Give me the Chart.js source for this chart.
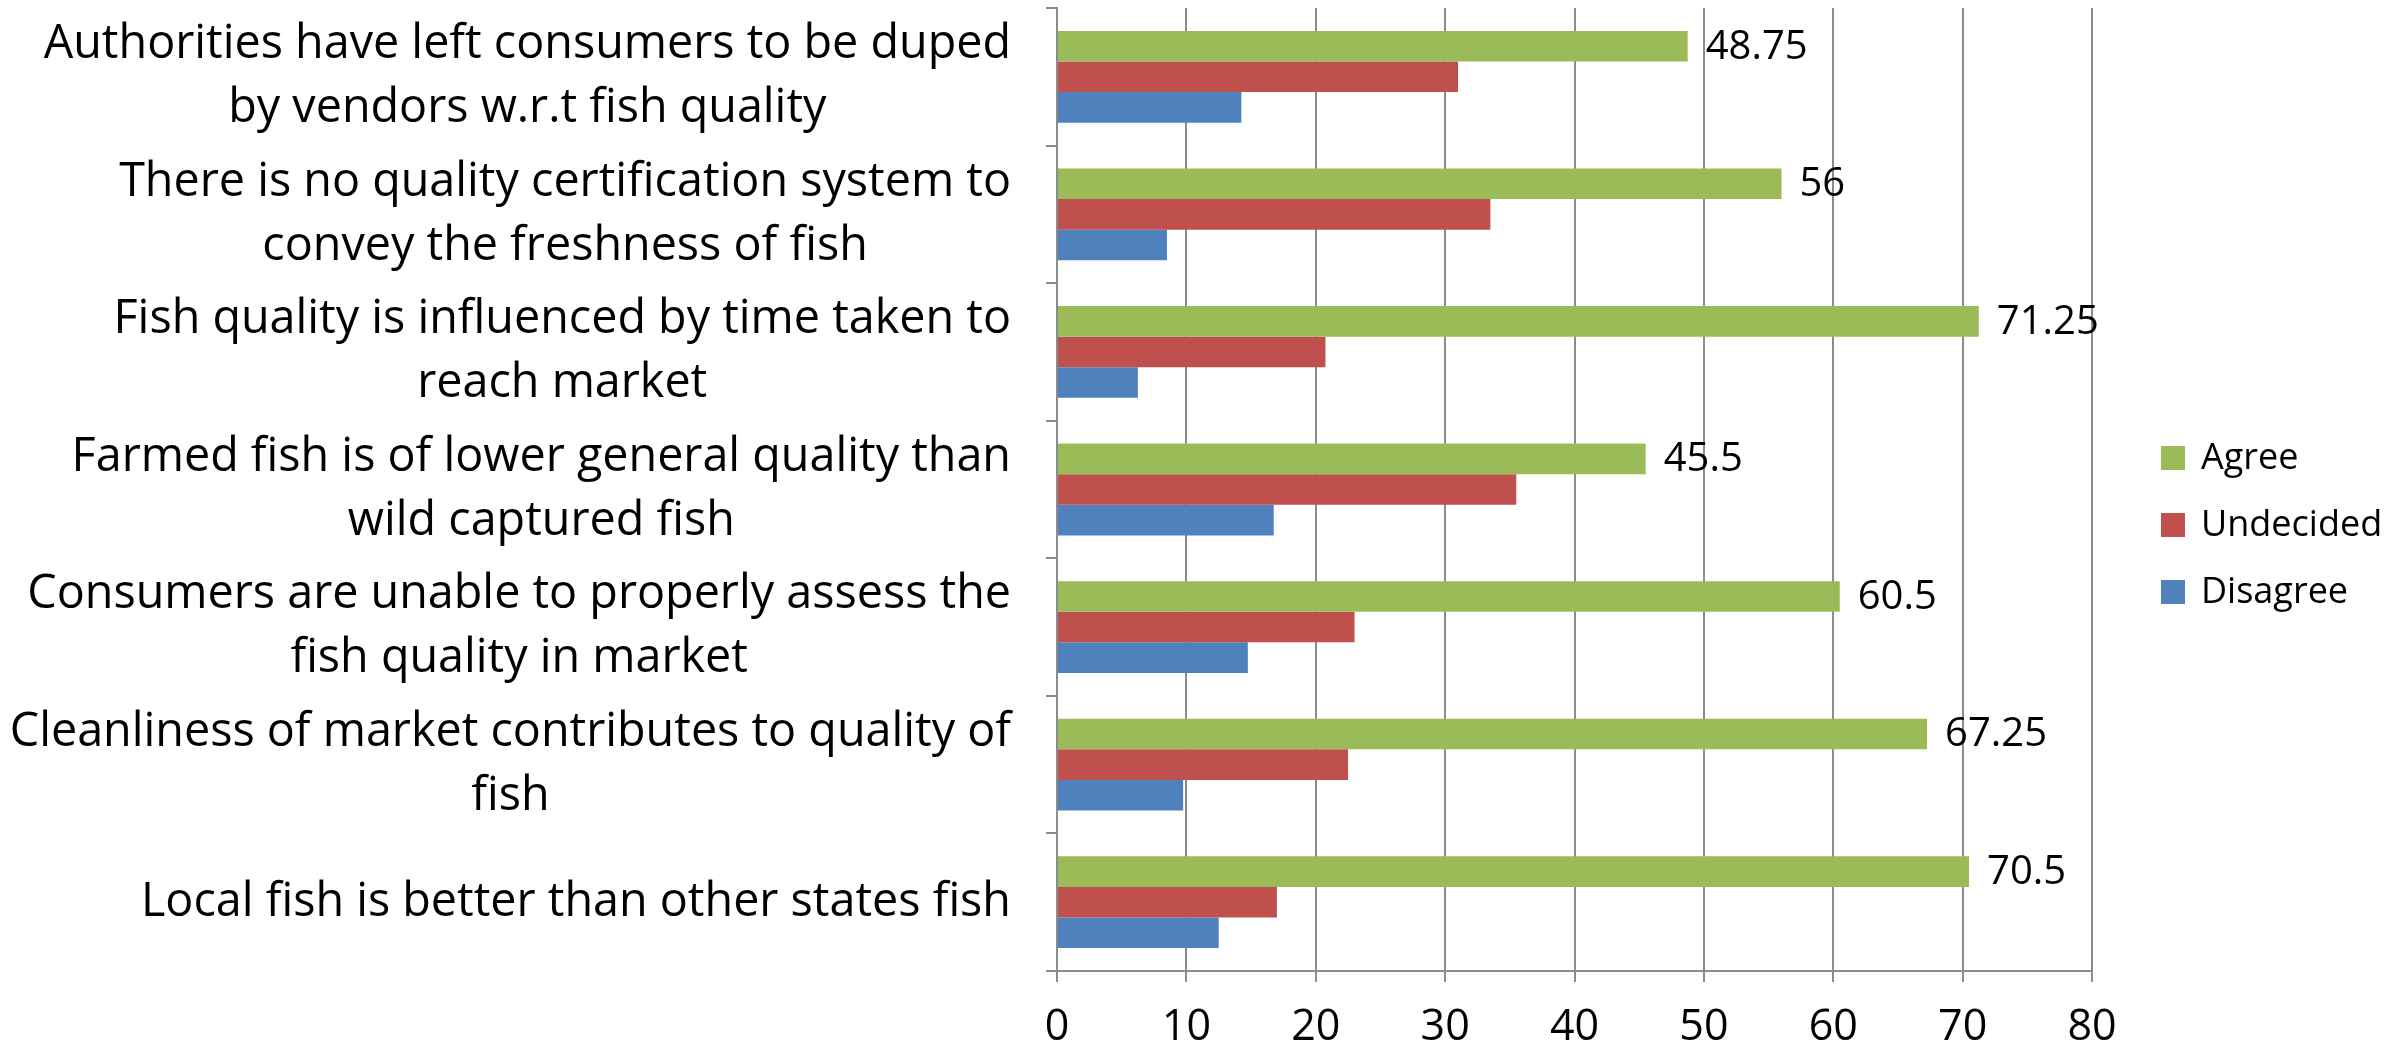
<!DOCTYPE html>
<html>
<head>
<meta charset="utf-8">
<script src="https://cdn.jsdelivr.net/npm/chart.js@4/dist/chart.umd.min.js"></script>
<style>
  html, body { margin: 0; padding: 0; background: #fff; }
  #wrap { width: 2408px; height: 1048px; }
</style>
</head>
<body>
<div id="wrap"><canvas id="fishChart" width="2408" height="1048"></canvas></div>
<script>
// data (top category first)
const categories = [
    ['Authorities have left consumers to be duped', 'by vendors w.r.t fish quality'],
    ['There is no quality certification system to', 'convey the freshness of fish'],
    ['Fish quality is influenced by time taken to', 'reach market'],
    ['Farmed fish is of lower general quality than', 'wild captured fish'],
    ['Consumers are unable to properly assess the', 'fish quality in market'],
    ['Cleanliness of market contributes to quality of', 'fish'],
    ['Local fish is better than other states fish']
];
const seriesNames = ['Agree', 'Undecided', 'Disagree'];
const agree = [48.75, 56, 71.25, 45.5, 60.5, 67.25, 70.5];
const undecided = [31, 33.5, 20.75, 35.5, 23, 22.5, 17];
const disagree = [14.25, 8.5, 6.25, 16.75, 14.75, 9.75, 12.5];
const xTicks = [0, 10, 20, 30, 40, 50, 60, 70, 80];

const FONT = '"Open Sans", Lato, sans-serif';
const GRID = '#8c8c8c';
const colors = ['#9BBB59', '#C0504D', '#4F81BD'];

// category labels: block right aligned, lines centred inside block
const categoryLabels = {
    id: 'categoryLabels',
    afterDraw(chart) {
        const ctx = chart.ctx;
        const y = chart.scales.y;
        const right = chart.chartArea.left - 46;
        const lineH = 64;
        ctx.save();
        ctx.font = '46.7px ' + FONT;
        ctx.fillStyle = '#000';
        ctx.textAlign = 'center';
        ctx.textBaseline = 'middle';
        categories.forEach((lines, i) => {
            const cy = y.getPixelForValue(i);
            const w = Math.max(...lines.map(l => ctx.measureText(l).width));
            const cx = right - w / 2;
            const y0 = cy - (lines.length - 1) * lineH / 2;
            lines.forEach((l, k) => ctx.fillText(l, cx, y0 + k * lineH));
        });
        ctx.restore();
    }
};

// value labels on the Agree bars only
const agreeLabels = {
    id: 'agreeLabels',
    afterDatasetsDraw(chart) {
        const ctx = chart.ctx;
        const meta = chart.getDatasetMeta(0);
        ctx.save();
        ctx.font = '40px ' + FONT;
        ctx.fillStyle = '#000';
        ctx.textAlign = 'left';
        ctx.textBaseline = 'middle';
        meta.data.forEach((bar, i) => {
            ctx.fillText(String(agree[i]), bar.x + 18, bar.y + 1);
        });
        ctx.restore();
    }
};

const sideLegend = {
    id: 'sideLegend',
    afterDraw(chart) {
        const ctx = chart.ctx;
        ctx.save();
        ctx.font = '36px ' + FONT;
        ctx.textBaseline = 'middle';
        ctx.textAlign = 'left';
        seriesNames.forEach((name, i) => {
            const cy = 458 + i * 67;
            ctx.fillStyle = colors[i];
            ctx.fillRect(2161, cy - 12, 24, 24);
            ctx.fillStyle = '#000';
            ctx.fillText(name, 2201, cy + 1);
        });
        ctx.restore();
    }
};

new Chart(document.getElementById('fishChart'), {
    type: 'bar',
    data: {
        labels: categories.map(c => c.join(' ')),
        datasets: [
            { label: seriesNames[0], data: agree, backgroundColor: colors[0] },
            { label: seriesNames[1], data: undecided, backgroundColor: colors[1] },
            { label: seriesNames[2], data: disagree, backgroundColor: colors[2] }
        ]
    },
    options: {
        indexAxis: 'y',
        responsive: false,
        animation: false,
        devicePixelRatio: 1,
        layout: { padding: { top: 8, right: 316, left: 0, bottom: 0 } },
        datasets: { bar: { categoryPercentage: 0.667, barPercentage: 1.0 } },
        plugins: {
            legend: { display: false },
            tooltip: { enabled: false }
        },
        scales: {
            x: {
                min: 0,
                max: 80,
                afterBuildTicks(scale) {
                    scale.ticks = xTicks.map(v => ({ value: v }));
                },
                afterFit(scale) { scale.height = 77; },
                grid: { color: GRID, lineWidth: 2, tickLength: 11, drawTicks: true },
                border: { color: GRID, width: 2 },
                ticks: {
                    color: '#000',
                    padding: 20,
                    font: { family: FONT, size: 43 }
                }
            },
            y: {
                afterFit(scale) { scale.width = 1057; },
                grid: { drawOnChartArea: false, color: GRID, lineWidth: 2, tickLength: 11, offset: true },
                border: { color: GRID, width: 2 },
                ticks: { display: false }
            }
        }
    },
    plugins: [categoryLabels, agreeLabels, sideLegend]
});
</script>
</body>
</html>
